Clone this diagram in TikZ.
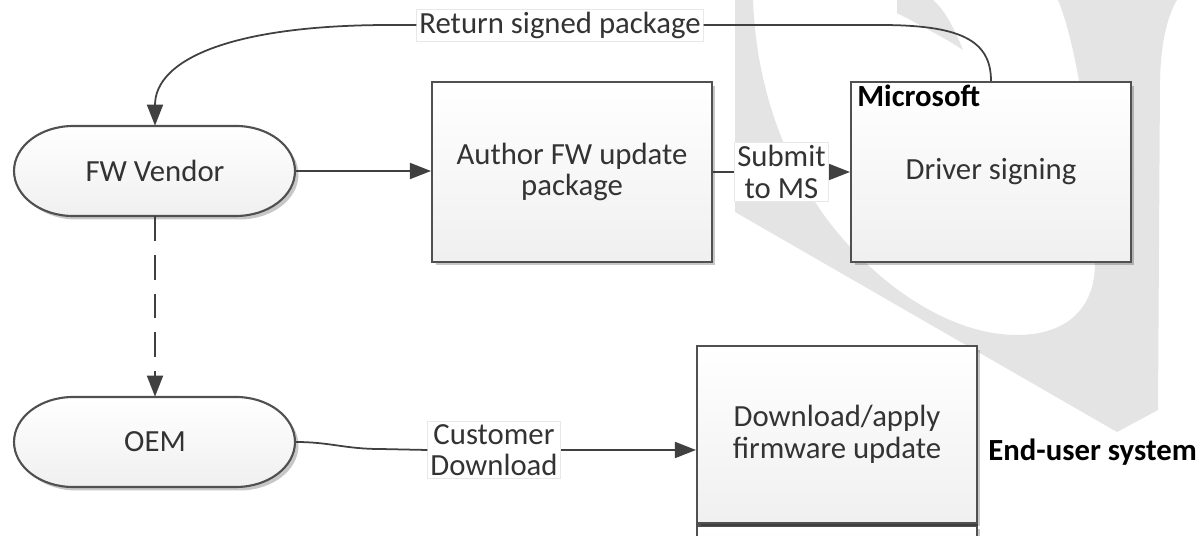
\documentclass[tikz,border=0pt]{standalone}
\usepackage{fontspec}
\setmainfont{Carlito}
\usetikzlibrary{arrows.meta,shadows}
\definecolor{wm}{HTML}{E4E4E4}
\definecolor{ln}{HTML}{404040}
\definecolor{bd}{HTML}{505050}
\definecolor{tx}{HTML}{333333}
\begin{document}
\begin{tikzpicture}[x=0.02cm,y=-0.02cm,
  font=\fontsize{17.5}{18}\selectfont, text=tx,
  box/.style={draw=bd,line width=1.2pt,top color=white,bottom color=gray!12,
    minimum width=5.6cm,minimum height=3.6cm,align=center,
    drop shadow={shadow xshift=0.07cm,shadow yshift=-0.07cm,opacity=0.22,fill=black}},
  pillshape/.style={draw=bd,line width=1.2pt,top color=white,bottom color=gray!12,
    drop shadow={shadow xshift=0.07cm,shadow yshift=-0.07cm,opacity=0.22,fill=black}},
  pilltext/.style={minimum width=5.62cm,minimum height=1.8cm,inner sep=0pt},
  lbl/.style={fill=white,draw=gray!18,line width=0.4pt,inner sep=1.5pt,align=center},
  conn/.style={draw=ln,line width=1pt},
  arr/.style={conn,-{Triangle[length=0.42cm,width=0.32cm]}},
  boldtext/.style={font=\fontsize{17.5}{18}\selectfont\bfseries,text=black}]
\useasboundingbox (0,0) rectangle (1198,536);
\clip (0,0) rectangle (1198,536);
\fill[white] (0,0) rectangle (1198,536);
% watermark
\fill[wm] (735,0) -- (735,212) -- (1117,432) -- (1158,410) -- (1160,80)
  .. controls (1161,40) and (1168,15) .. (1177,0) -- (1058,0)
  .. controls (1075,40) and (1095,150) .. (1095,263)
  .. controls (1095,310) and (1065,335) .. (1017,335)
  .. controls (940,335) and (860,270) .. (817,205)
  .. controls (780,150) and (756,80) .. (753,0) -- cycle;
\fill[wm] (897,0) -- (897,13) .. controls (920,25) and (945,38) .. (963,50)
  .. controls (955,30) and (945,10) .. (933,0) -- cycle;
% pills
\shade[pillshape] (73,126) -- (236,126) arc[start angle=90,end angle=-90,x radius=1.18cm,y radius=0.9cm]
  -- (73,216) arc[start angle=270,end angle=90,x radius=1.18cm,y radius=0.9cm] -- cycle;
\node[pilltext] (fw) at (155,171) {FW Vendor};
\shade[pillshape] (73,397) -- (236,397) arc[start angle=90,end angle=-90,x radius=1.18cm,y radius=0.9cm]
  -- (73,487) arc[start angle=270,end angle=90,x radius=1.18cm,y radius=0.9cm] -- cycle;
\node[pilltext] (oem) at (155,442) {OEM};
% boxes
\node[box] (auth) at (572,172) {Author FW update\\package};
\node[box] (ms) at (991,172) {Driver signing};
\node[boldtext,anchor=base west,inner sep=0pt] (mst) at (857,107) {Microsoft};
\node[box,minimum height=3.7cm] (dl2) at (837,618) {};
\node[box,minimum height=3.54cm] (dl) at (837,434.5) {Download/apply\\firmware update};
\node[boldtext,anchor=west,inner sep=0pt] (eu) at (988,452) {End-user system};
% connectors
\draw[arr] (fw.east) -- (fw.east -| auth.west);
\draw[arr] (auth.east) -- node[lbl] (sub) {Submit\\to MS} (ms.west);
\node[lbl] (ret) at (560,25) {Return signed package};
\draw[conn] (ms.north) .. controls (991,40) and (960,25) .. (880,25) -- (ret.east);
\draw[arr] (ret.west) -- (390,25) .. controls (230,25) and (155,60) .. (fw.north);
\draw[arr,dash pattern=on 14pt off 8pt] (fw.south) -- (oem.north);
\node[lbl] (cust) at (494,450) {Customer\\Download};
\draw[conn] (oem.east) .. controls (330,442) and (345,449) .. (380,449) -- (cust.west);
\draw[arr] (cust.east) -- (cust.east -| dl.west);
\end{tikzpicture}
\end{document}
